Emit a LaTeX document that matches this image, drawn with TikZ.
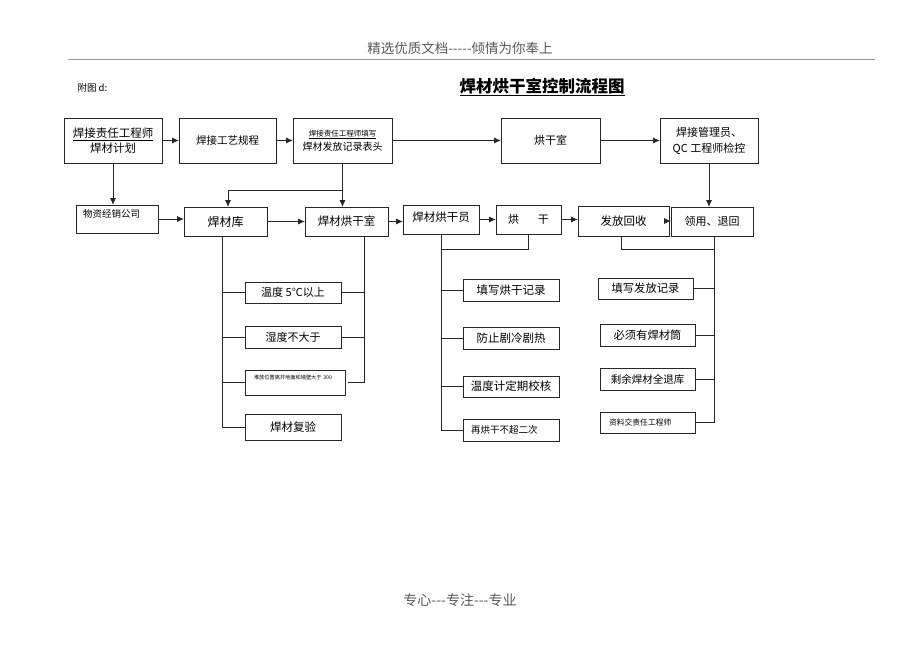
\documentclass[tikz,border=0pt]{standalone}
\usepackage{fontspec}
\setmainfont{Noto Sans CJK SC}
\usetikzlibrary{arrows.meta,calc}
\newcommand\bx[7][]{\node[box,minimum width={#5-#3},minimum height={#6-#4},#1] (#2) at ({(#3+#5)/2},{(#4+#6)/2}) {#7};}
\begin{document}
\begin{tikzpicture}[x=1pt,y=-1pt,
  box/.style={draw=black!85,line width=0.9pt,inner sep=1pt,outer sep=0pt,align=center,font=\fontsize{11}{14}\selectfont},
  ln/.style={draw=black!85,line width=0.9pt},
  arr/.style={ln,-{Latex[length=7pt,width=6pt]}}]
\fill[white] (0,0) rectangle (920,651);
\useasboundingbox (0,0) rectangle (920,651);
% header / footer
\node[text=black!65,font=\fontsize{13.5}{16}\selectfont] (hdr) at (460,48) {精选优质文档-{}-{}-{}-{}-倾情为你奉上};
\draw[black!40,line width=0.8pt] (68,59) -- (875,59);
\node[anchor=west,font=\fontsize{9.5}{12}\selectfont] (fig) at (74,88) {附图 d:};
\node[font=\fontsize{16.5}{20}\selectfont\bfseries] (title) at (542,87) {\underline{焊材烘干室控制流程图}};
\node[text=black!65,font=\fontsize{14}{16}\selectfont] (ftr) at (460,600) {专心-{}-{}-专注-{}-{}-专业};
% top row
\bx[font=\fontsize{11.5}{15}\selectfont]{A}{64}{118}{162}{163}{\underline{焊接责任工程师}\\焊材计划}
\bx[font=\fontsize{10.5}{13}\selectfont]{B}{179}{118}{276}{163}{焊接工艺规程}
\bx[font=\fontsize{10}{14}\selectfont]{C}{293}{118}{392}{163}{{\fontsize{7.5}{9}\selectfont\underline{焊接责任工程师填写}}\\焊材发放记录表头}
\bx{D}{501}{118}{600}{163}{烘干室}
\bx[font=\fontsize{11}{16}\selectfont]{E}{660}{118}{758}{163}{焊接管理员、\\QC 工程师检控}
% middle row
\bx[font=\fontsize{9.5}{12}\selectfont,text width=68pt,align=left,text depth=12pt]{wz}{76}{205}{158}{233}{物资经销公司}
\bx[font=\fontsize{12}{14}\selectfont]{ku}{184}{207}{267}{236}{焊材库}
\bx[font=\fontsize{11.5}{14}\selectfont]{hgs}{305}{207}{388}{236}{焊材烘干室}
\bx[font=\fontsize{11.5}{14}\selectfont,text depth=5pt]{hgy}{403}{205}{479}{234}{焊材烘干员}
\bx{hg}{496}{205}{561}{234}{烘\hspace{1.7em}干}
\bx[font=\fontsize{11.5}{14}\selectfont]{ff}{578}{206}{669}{236}{发放回收}
\bx{ly}{671}{207}{753}{236}{领用、退回}
% left column
\bx{t1}{245}{282}{341}{303}{温度 5℃以上}
\bx{t2}{245}{326}{341}{348}{湿度不大于}
\bx[font=\fontsize{5.2}{7}\selectfont,text width=82pt,align=left,text depth=10pt]{t3}{245}{370}{345}{395}{堆放位置离开地面和墙壁大于 300}
\bx[font=\fontsize{11.5}{14}\selectfont]{t4}{245}{414}{341}{440}{焊材复验}
% middle column
\bx[font=\fontsize{11.5}{14}\selectfont]{m1}{463}{279}{559}{301}{填写烘干记录}
\bx[font=\fontsize{11.5}{14}\selectfont]{m2}{463}{327}{559}{349}{防止剧冷剧热}
\bx[font=\fontsize{11.5}{14}\selectfont]{m3}{463}{376}{559}{397}{温度计定期校核}
\bx[font=\fontsize{9.5}{12}\selectfont,text width=80pt,align=left]{m4}{463}{419}{559}{441}{再烘干不超二次}
% right column
\bx[font=\fontsize{11.3}{14}\selectfont]{r1}{598}{278}{693}{299}{填写发放记录}
\bx[font=\fontsize{11.3}{14}\selectfont]{r2}{600}{324}{695}{346}{必须有焊材筒}
\bx[font=\fontsize{10.5}{14}\selectfont]{r3}{600}{368}{695}{390}{剩余焊材全退库}
\bx[font=\fontsize{7.8}{10}\selectfont,text width=77pt,align=left]{r4}{600}{412}{695}{433}{资料交责任工程师}
% top row arrows
\draw[arr] (A.east) -- (B.west);
\draw[arr] (B.east) -- (C.west);
\draw[arr] (C.east) -- (D.west);
\draw[arr] (D.east) -- (E.west);
\draw[arr] (A.south) -- (A.south |- wz.north);
\draw[arr] (C.south) -- (C.south |- hgs.north);
\draw[arr] ($(C.south)+(0,27)$) -| ([xshift=2.5pt]ku.north);
\draw[arr] (E.south) -- (E.south |- ly.north);
% middle row arrows
\draw[arr] (wz.east) -- (wz.east -| ku.west);
\draw[arr] (ku.east) -- (ku.east -| hgs.west);
\draw[arr] (hgs.east) -- (hgs.east -| hgy.west);
\draw[arr] (hgy.east) -- (hgy.east -| hg.west);
\draw[arr] (hg.east) -- (hg.east -| ff.west);
\draw[arr] (ff.east) -- (ff.east -| ly.west);
% left column lines
\coordinate (kl) at ([xshift=-3pt]ku.south);
\draw[ln] (kl) |- (t4.west);
\foreach \t in {t1,t2,t3} \draw[ln] (\t.west) -- (\t.west -| kl);
\coordinate (hr) at ([xshift=18pt]hgs.south);
\draw[ln] (hr) |- ([xshift=3pt]t3.east);
\foreach \t in {t1,t2} \draw[ln] (\t.east) -- (\t.east -| hr);
% middle column lines
\draw[ln] (hgy.south) |- (m4.west);
\foreach \t in {m1,m2,m3} \draw[ln] (\t.west) -- (\t.west -| hgy.south);
\draw[ln] ($(hgy.south)+(0,15)$) -| (hg.south);
% right column lines
\coordinate (lr) at ([xshift=2pt]ly.south);
\draw[ln] (lr) |- (r4.east);
\foreach \t in {r1,r2,r3} \draw[ln] (\t.east) -- (\t.east -| lr);
\draw[ln] ([xshift=-2pt]ff.south) |- ($(lr)+(0,13)$);
\end{tikzpicture}
\end{document}
